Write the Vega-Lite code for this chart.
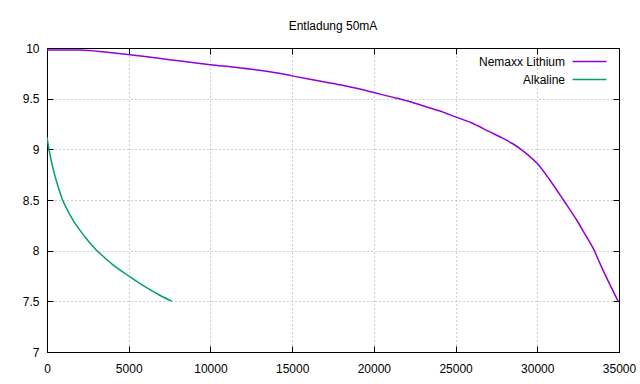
{
  "$schema": "https://vega.github.io/schema/vega-lite/v6.json",
  "width": 572,
  "height": 304,
  "autosize": "none",
  "padding": {"left": 47, "top": 48, "right": 21, "bottom": 32},
  "background": "white",
  "title": {"text": "Entladung 50mA", "font": "Liberation Sans", "fontSize": 12, "fontWeight": "normal", "color": "black", "anchor": "middle", "baseline": "alphabetic", "offset": 0},
  "config": {
    "view": {"stroke": "black", "strokeWidth": 1},
    "axis": {"labelFont": "Liberation Sans", "labelFontSize": 12, "labelColor": "black", "domainColor": "black", "tickColor": "black", "tickSize": -6, "tickWidth": 1, "gridColor": "#a0a0a0", "gridDash": [1, 3], "gridWidth": 1, "title": null}
  },
  "data": {"values": [
    {"t": 0, "v": 9.98, "s": "Nemaxx Lithium"},
    {"t": 1000, "v": 9.98, "s": "Nemaxx Lithium"},
    {"t": 2000, "v": 9.98, "s": "Nemaxx Lithium"},
    {"t": 2600, "v": 9.975, "s": "Nemaxx Lithium"},
    {"t": 3500, "v": 9.96, "s": "Nemaxx Lithium"},
    {"t": 4940, "v": 9.935, "s": "Nemaxx Lithium"},
    {"t": 6000, "v": 9.915, "s": "Nemaxx Lithium"},
    {"t": 7500, "v": 9.885, "s": "Nemaxx Lithium"},
    {"t": 9000, "v": 9.855, "s": "Nemaxx Lithium"},
    {"t": 10000, "v": 9.835, "s": "Nemaxx Lithium"},
    {"t": 11500, "v": 9.81, "s": "Nemaxx Lithium"},
    {"t": 13000, "v": 9.78, "s": "Nemaxx Lithium"},
    {"t": 14000, "v": 9.755, "s": "Nemaxx Lithium"},
    {"t": 15000, "v": 9.725, "s": "Nemaxx Lithium"},
    {"t": 16000, "v": 9.695, "s": "Nemaxx Lithium"},
    {"t": 17000, "v": 9.665, "s": "Nemaxx Lithium"},
    {"t": 18000, "v": 9.635, "s": "Nemaxx Lithium"},
    {"t": 19000, "v": 9.6, "s": "Nemaxx Lithium"},
    {"t": 20000, "v": 9.56, "s": "Nemaxx Lithium"},
    {"t": 21000, "v": 9.52, "s": "Nemaxx Lithium"},
    {"t": 22000, "v": 9.48, "s": "Nemaxx Lithium"},
    {"t": 23000, "v": 9.43, "s": "Nemaxx Lithium"},
    {"t": 24000, "v": 9.38, "s": "Nemaxx Lithium"},
    {"t": 25000, "v": 9.32, "s": "Nemaxx Lithium"},
    {"t": 26000, "v": 9.26, "s": "Nemaxx Lithium"},
    {"t": 27000, "v": 9.18, "s": "Nemaxx Lithium"},
    {"t": 28000, "v": 9.1, "s": "Nemaxx Lithium"},
    {"t": 28500, "v": 9.055, "s": "Nemaxx Lithium"},
    {"t": 29000, "v": 9.0, "s": "Nemaxx Lithium"},
    {"t": 29500, "v": 8.935, "s": "Nemaxx Lithium"},
    {"t": 30000, "v": 8.86, "s": "Nemaxx Lithium"},
    {"t": 30800, "v": 8.69, "s": "Nemaxx Lithium"},
    {"t": 31600, "v": 8.5, "s": "Nemaxx Lithium"},
    {"t": 32400, "v": 8.305, "s": "Nemaxx Lithium"},
    {"t": 33000, "v": 8.14, "s": "Nemaxx Lithium"},
    {"t": 33400, "v": 8.03, "s": "Nemaxx Lithium"},
    {"t": 33900, "v": 7.85, "s": "Nemaxx Lithium"},
    {"t": 34400, "v": 7.68, "s": "Nemaxx Lithium"},
    {"t": 34950, "v": 7.5, "s": "Nemaxx Lithium"},
    {"t": 0, "v": 9.12, "s": "Alkaline"},
    {"t": 120, "v": 9.0, "s": "Alkaline"},
    {"t": 300, "v": 8.86, "s": "Alkaline"},
    {"t": 450, "v": 8.76, "s": "Alkaline"},
    {"t": 700, "v": 8.62, "s": "Alkaline"},
    {"t": 955, "v": 8.5, "s": "Alkaline"},
    {"t": 1250, "v": 8.4, "s": "Alkaline"},
    {"t": 1600, "v": 8.3, "s": "Alkaline"},
    {"t": 2000, "v": 8.205, "s": "Alkaline"},
    {"t": 2500, "v": 8.1, "s": "Alkaline"},
    {"t": 3000, "v": 8.01, "s": "Alkaline"},
    {"t": 3500, "v": 7.935, "s": "Alkaline"},
    {"t": 4000, "v": 7.865, "s": "Alkaline"},
    {"t": 4500, "v": 7.805, "s": "Alkaline"},
    {"t": 5000, "v": 7.75, "s": "Alkaline"},
    {"t": 5600, "v": 7.685, "s": "Alkaline"},
    {"t": 6200, "v": 7.625, "s": "Alkaline"},
    {"t": 6900, "v": 7.56, "s": "Alkaline"},
    {"t": 7650, "v": 7.5, "s": "Alkaline"}
  ]},
  "layer": [
    {
      "mark": {"type": "line", "strokeWidth": 1.5, "interpolate": "monotone", "clip": true},
      "encoding": {
        "x": {"field": "t", "type": "quantitative", "scale": {"domain": [0, 35000], "nice": false, "zero": false}, "axis": {"values": [0, 5000, 10000, 15000, 20000, 25000, 30000, 35000], "format": "d", "grid": true, "labelPadding": 17, "labelFlush": false}},
        "y": {"field": "v", "type": "quantitative", "scale": {"domain": [7, 10], "nice": false, "zero": false}, "axis": {"values": [7, 7.5, 8, 8.5, 9, 9.5, 10], "format": "~g", "grid": true, "labelPadding": 14, "labelFlush": false}},
        "color": {"field": "s", "type": "nominal", "sort": ["Nemaxx Lithium", "Alkaline"], "scale": {"domain": ["Nemaxx Lithium", "Alkaline"], "range": ["#9400d3", "#009e73"]},
          "legend": {"title": null, "orient": "none", "legendX": 536, "legendY": 7, "symbolType": "M-3,0H3", "symbolSize": 128, "symbolStrokeWidth": 1.5, "labelAlign": "right", "labelOffset": -31, "labelFont": "Liberation Sans", "labelFontSize": 12, "labelColor": "black", "rowPadding": 5, "padding": 0}}
      }
    },
    {
      "mark": {"type": "line", "opacity": 0},
      "encoding": {
        "x": {"field": "t", "type": "quantitative", "axis": {"orient": "top", "labels": false, "grid": false, "values": [0, 5000, 10000, 15000, 20000, 25000, 30000, 35000]}},
        "y": {"field": "v", "type": "quantitative", "axis": {"orient": "right", "labels": false, "grid": false, "values": [7, 7.5, 8, 8.5, 9, 9.5, 10]}},
        "detail": {"field": "s"}
      }
    }
  ],
  "resolve": {"axis": {"x": "independent", "y": "independent"}}
}
